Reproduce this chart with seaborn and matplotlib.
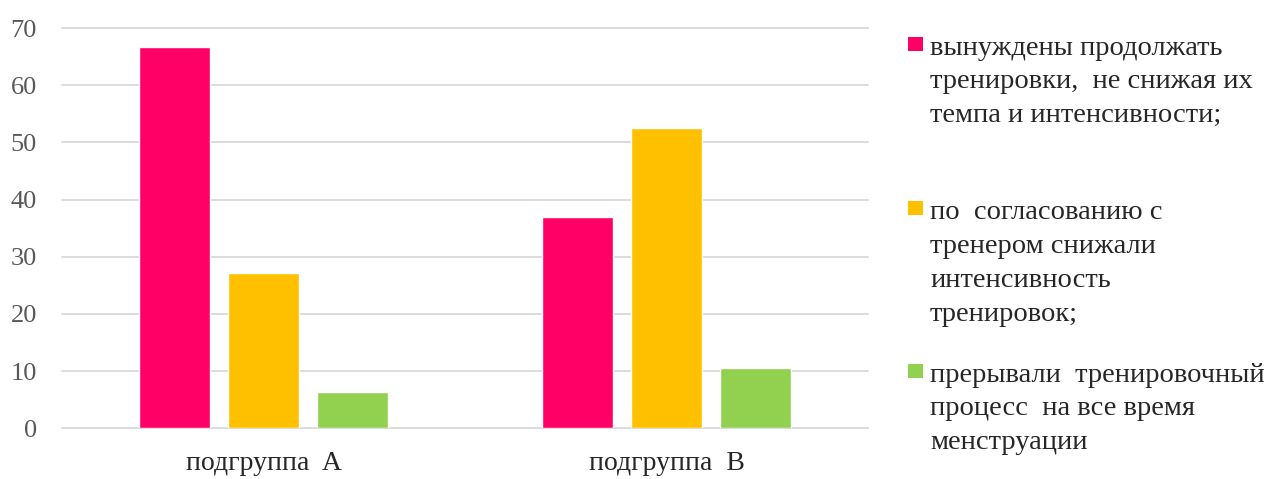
import matplotlib
matplotlib.use("Agg")
import matplotlib.pyplot as plt
from matplotlib.patches import Rectangle
import seaborn as sns
import pandas as pd

# Subgroups on the x axis
groups = ["подгруппа  A", "подгруппа  B"]
# Answer options (legend entries)
answers = [
    "вынуждены продолжать\nтренировки,  не снижая их\nтемпа и интенсивности;",
    "по  согласованию с\nтренером снижали\nинтенсивность\nтренировок;",
    "прерывали  тренировочный\nпроцесс  на все время\nменструации",
]
# Share of respondents, %
group_a = [66.6, 27.1, 6.4]
group_b = [36.9, 52.6, 10.6]
colors = ["#FF0066", "#FFC000", "#92D050"]

df = pd.DataFrame({
    "group": [g for g in groups for _ in answers],
    "answer": answers * 2,
    "value": group_a + group_b,
})

sns.set_theme(style="white")
plt.rcParams["font.family"] = ["Liberation Serif", "DejaVu Serif"]

W, H = 1267, 479
fig = plt.figure(figsize=(W / 100, H / 100), dpi=100)
ax = fig.add_axes([62 / W, 1 - 428.3 / H, 806 / W, 400.3 / H])

sns.barplot(df, x="group", y="value", hue="answer", hue_order=answers,
            palette=colors, saturation=1, width=0.6625, gap=0.213,
            legend=False, ax=ax)

ax.set_ylim(0, 70)
ax.set_yticks(range(0, 71, 10))
ax.yaxis.grid(True, color="#D9D9D9", lw=1.3)
ax.xaxis.grid(False)
ax.set_axisbelow(True)
for s in ax.spines.values():
    s.set_visible(False)
for gl in ax.get_ygridlines():
    gl.set_clip_on(False)
ax.tick_params(axis="y", length=0, pad=18, labelsize=19, labelcolor="#595959")
ax.tick_params(axis="x", length=0, pad=16, labelsize=20, labelcolor="#262626")
ax.set_xlabel("")
ax.set_ylabel("")

# Legend on the right: square key aligned with the first line of each label
line_step = 34.7                # pixel distance between label lines
first_baselines = [53, 217, 380]  # pixel rows (from top) of each label's first line
for label, color, base in zip(answers, colors, first_baselines):
    n_lines = label.count("\n") + 1
    fig.patches.append(Rectangle((908 / W, 1 - (base - 2) / H), 15 / W, 14 / H,
                                 transform=fig.transFigure, facecolor=color,
                                 edgecolor="none"))
    last_base = base + (n_lines - 1) * line_step
    fig.text(930 / W, 1 - last_base / H, label, ha="left", va="baseline",
             fontsize=20.5, color="#262626", linespacing=1.47)

fig.savefig("out.png", dpi=100)
